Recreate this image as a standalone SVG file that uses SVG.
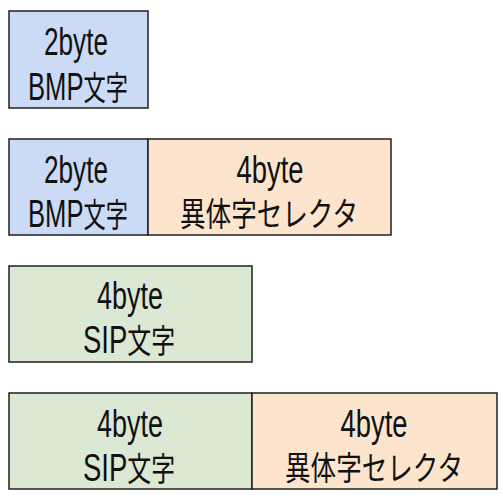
<svg xmlns="http://www.w3.org/2000/svg" width="503" height="503" viewBox="0 0 503 503">
<style>
rect{stroke:#1f1f1f;stroke-width:1.5}
.b{fill:#CBDAF5}.o{fill:#FCE4CD}.g{fill:#DAE8D4}
text{font-family:"Liberation Sans","Noto Sans CJK JP",sans-serif;font-size:38px;fill:#111;text-anchor:middle}
.j{font-size:33px}
</style>
<rect width="503" height="503" fill="#fff" style="stroke:none"/>
<g id="row1-bmp">
<rect class="b" x="9" y="11" width="139" height="97"/>
<text x="76" y="55" textLength="64" lengthAdjust="spacingAndGlyphs">2byte</text>
<text x="78" y="100" textLength="100" lengthAdjust="spacingAndGlyphs">BMP<tspan class="j">文字</tspan></text>
</g>
<g id="row2-bmp">
<rect class="b" x="9" y="139" width="139" height="96"/>
<text x="76" y="183" textLength="64" lengthAdjust="spacingAndGlyphs">2byte</text>
<text x="78" y="227" textLength="100" lengthAdjust="spacingAndGlyphs">BMP<tspan class="j">文字</tspan></text>
</g>
<g id="row2-selector">
<rect class="o" x="148" y="139" width="243" height="96"/>
<text x="270" y="183" textLength="67" lengthAdjust="spacingAndGlyphs">4byte</text>
<text x="269" y="226" class="j" textLength="178" lengthAdjust="spacingAndGlyphs">異体字セレクタ</text>
</g>
<g id="row3-sip">
<rect class="g" x="9" y="266" width="243" height="96"/>
<text x="130" y="309" textLength="66" lengthAdjust="spacingAndGlyphs">4byte</text>
<text x="129" y="353" textLength="92" lengthAdjust="spacingAndGlyphs">SIP<tspan class="j">文字</tspan></text>
</g>
<g id="row4-sip">
<rect class="g" x="9" y="393" width="243" height="96"/>
<text x="130" y="437" textLength="66" lengthAdjust="spacingAndGlyphs">4byte</text>
<text x="129" y="481" textLength="92" lengthAdjust="spacingAndGlyphs">SIP<tspan class="j">文字</tspan></text>
</g>
<g id="row4-selector">
<rect class="o" x="252" y="393" width="245" height="96"/>
<text x="374" y="437" textLength="67" lengthAdjust="spacingAndGlyphs">4byte</text>
<text x="374" y="480" class="j" textLength="178" lengthAdjust="spacingAndGlyphs">異体字セレクタ</text>
</g>
</svg>
